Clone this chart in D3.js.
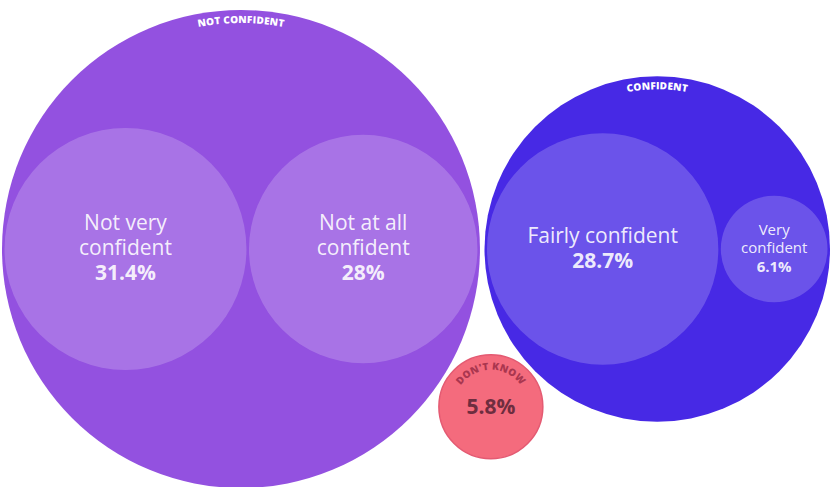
<!DOCTYPE html>
<html>
<head>
<meta charset="utf-8">
<script src="https://cdn.jsdelivr.net/npm/d3@7"></script>
<style>
  html, body { margin: 0; padding: 0; background: #fff; }
  svg { display: block; font-family: "Open Sans", Lato, sans-serif; }
</style>
</head>
<body>
<div id="chart"></div>
<script>
// groups and their answers (percent of respondents)
const groupNames = ["NOT CONFIDENT", "CONFIDENT", "DON'T KNOW"]
const groupColors = ["#9351e0", "#4729e5", "#f46b7d"]
const answerGroups = ["NOT CONFIDENT", "NOT CONFIDENT", "CONFIDENT", "CONFIDENT"]
const answerNames = ["Not very confident", "Not at all confident", "Fairly confident", "Very confident"]
const answerValues = [31.4, 28, 28.7, 6.1]
const dontKnowValue = 5.8

const width = 832
const height = 487
const margin = 2
const midY = 249

const tree = {
  name: "root",
  children: groupNames.map((g, i) => {
    if (g === "DON'T KNOW") return { name: g, color: groupColors[i], value: dontKnowValue }
    return {
      name: g,
      color: groupColors[i],
      children: answerNames
        .map((n, j) => ({ name: n, value: answerValues[j], group: answerGroups[j] }))
        .filter(d => d.group === g)
    }
  })
}

const root = d3.hierarchy(tree)
  .sum(d => d.value || 0)
  .sort((a, b) => b.value - a.value)

d3.pack()
  .radius(d => Math.sqrt(d.value) * 21.4)
  .padding(d => d.depth === 0 ? 4.5 : 2.5)(root)

// fit the packed circles to the window width
const tops = root.children
const x0 = d3.min(tops, d => d.x - d.r)
const x1 = d3.max(tops, d => d.x + d.r)
const y0 = d3.min(tops, d => d.y - d.r)
const y1 = d3.max(tops, d => d.y + d.r)
const k = (width - 2 * margin) / (x1 - x0)
const sx = d3.scaleLinear().domain([x0, x1]).range([margin, width - margin])
const sy = d3.scaleLinear().domain([y0, y1]).range([midY - k * (y1 - y0) / 2, midY + k * (y1 - y0) / 2])

const svg = d3.select("#chart")
  .append("svg")
  .attr("width", width)
  .attr("height", height)
  .attr("viewBox", [0, 0, width, height])

const defs = svg.append("defs")

const groups = svg.selectAll("g.group")
  .data(tops)
  .join("g")
  .attr("class", "group")
  .attr("transform", d => `translate(${sx(d.x)},${sy(d.y)})`)

groups.append("circle")
  .attr("r", d => d.r * k)
  .attr("fill", d => d.data.color)
  .attr("stroke", d => d.children ? "none" : "#e45a72")
  .attr("stroke-width", 1.5)

// curved group titles along the top of each circle
groups.each(function (d, i) {
  const rr = d.r * k - (d.children ? 13 : 15)
  defs.append("path")
    .attr("id", "arc-" + i)
    .attr("d", `M${-rr},0 A${rr},${rr} 0 0,1 ${rr},0`)
  d3.select(this).append("text")
    .attr("font-size", 10)
    .attr("font-weight", 800)
    .attr("letter-spacing", 0.2)
    .attr("fill", d.children ? "#fff" : "#a9364f")
    .append("textPath")
    .attr("href", "#arc-" + i)
    .attr("startOffset", "50%")
    .attr("text-anchor", "middle")
    .text(d.data.name)
})

// don't know value
groups.filter(d => !d.children)
  .append("text")
  .attr("text-anchor", "middle")
  .attr("dy", "0.35em")
  .attr("font-size", 21)
  .attr("font-weight", 700)
  .attr("fill", "#6e2d3f")
  .text(d => d.value + "%")

// answer circles
const leaves = svg.selectAll("g.leaf")
  .data(root.leaves().filter(d => d.depth === 2))
  .join("g")
  .attr("class", "leaf")
  .attr("transform", d => `translate(${sx(d.x)},${sy(d.y)})`)

leaves.append("circle")
  .attr("r", d => d.r * k)
  .attr("fill", "#fff")
  .attr("fill-opacity", 0.2)

leaves.each(function (d) {
  const g = d3.select(this)
  const r = d.r * k
  const size = r > 80 ? 21 : 15
  const lh = r > 80 ? 25 : 18.5
  const maxW = r * 1.36
  const words = d.data.name.split(" ")
  const lines = []
  const probe = g.append("text").attr("font-size", size)
  let line = []
  words.forEach(w => {
    const test = line.concat(w).join(" ")
    probe.text(test)
    if (line.length && probe.node().getComputedTextLength() > maxW) {
      lines.push(line.join(" "))
      line = [w]
    } else {
      line.push(w)
    }
  })
  lines.push(line.join(" "))
  probe.remove()

  const all = lines.concat([d.value + "%"])
  const startY = -(all.length - 1) * lh / 2 - 1
  const t = g.append("text")
    .attr("text-anchor", "middle")
    .attr("font-size", size)
    .attr("fill", "#fff")
    .attr("fill-opacity", 0.9)
  all.forEach((s, i) => {
    t.append("tspan")
      .attr("x", 0)
      .attr("y", startY + i * lh)
      .attr("dy", "0.35em")
      .attr("font-weight", i === all.length - 1 ? 700 : 400)
      .text(s)
  })
})
</script>
</body>
</html>
